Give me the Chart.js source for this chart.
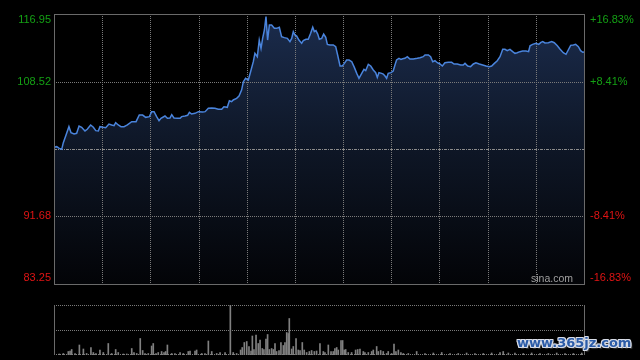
<!DOCTYPE html>
<html><head><meta charset="utf-8">
<script src="https://cdn.jsdelivr.net/npm/chart.js@4/dist/chart.umd.min.js"></script>
<style>
html,body{margin:0;padding:0;background:#000;width:640px;height:360px;overflow:hidden;}
#c1{position:absolute;left:0;top:0;}
#c2{position:absolute;left:0;top:290px;}
#wm{position:absolute;left:517px;top:335px;font:bold 13px "DejaVu Sans";color:#2c5ca8;
text-shadow:1px 0 0 #d8dde8,-1px 0 0 #d8dde8,0 1px 0 #d8dde8,0 -1px 0 #d8dde8,1px 1px 0 #d8dde8,-1px -1px 0 #d8dde8,1px -1px 0 #d8dde8,-1px 1px 0 #d8dde8,2px 2px 1px #333;white-space:nowrap;}
</style></head><body>
<canvas id="c1" width="640" height="290"></canvas>
<canvas id="c2" width="640" height="70"></canvas>
<div id="wm">www.365jz.com</div>
<script>
// ---- data (minutes since open, HK session 330 min) ----
const minutes = [0,1.7,3.3,4.8,5.8,7.5,9.3,10.6,12.5,14.1,15.6,17.2,19.3,20.7,22.8,24.5,26.0,27.6,28.6,30.7,32.2,34.2,35.9,37.4,38.4,40.0,41.7,43.6,45.7,48.4,51.1,53.1,55.2,57.1,59.4,60.8,62.3,63.9,65.4,66.6,69.1,70.6,72.2,73.3,74.7,76.8,78.5,79.5,81.6,83.2,84.3,85.7,87.8,89.9,92.6,94.1,96.1,98.2,100.2,102.3,104.4,105.8,107.9,109.2,110.6,111.6,113.7,115.2,116.8,117.9,119.3,121.0,122.7,124.1,125.1,126.6,127.8,128.9,129.9,131.0,132.0,133.0,134.1,135.5,137.2,138.6,140.3,141.7,143.4,145.3,146.9,148.0,149.0,150.0,151.1,152.5,154.2,155.2,156.9,158.3,159.8,161.1,162.1,163.1,164.2,165.2,166.7,167.9,169.2,170.2,171.8,173.9,175.4,176.6,178.1,179.5,180.8,182.2,183.7,185.4,187.0,188.5,189.9,191.6,193.0,194.1,195.7,197.2,198.8,200.3,201.3,202.3,204.0,205.0,206.1,207.1,208.1,209.8,211.2,212.3,213.3,214.8,216.0,217.1,218.5,220.0,221.6,223.7,226.2,227.9,229.9,231.0,233.1,234.5,235.8,237.2,238.7,240.3,241.8,243.4,245.5,247.6,249.1,251.1,253.2,254.8,255.9,257.6,259.4,261.1,262.7,264.8,266.9,269.0,271.0,272.5,274.2,276.0,277.7,279.4,280.8,282.2,283.9,285.6,287.0,288.4,290.1,291.8,293.9,295.5,296.4,298.0,300.1,301.8,303.2,304.3,305.7,307.8,309.9,311.5,313.4,315.0,317.1,318.8,320.2,321.7,323.4,324.8,326.5,327.9,329.2,330];
const prices = [100.31,100.39,100.18,100.06,100.89,101.85,102.89,102.14,101.97,102.06,102.97,102.81,102.35,102.56,103.10,102.81,102.39,102.35,102.89,102.81,102.76,103.22,103.10,103.01,103.39,103.10,102.89,102.89,103.10,103.51,103.51,104.34,104.34,104.05,104.14,104.76,104.76,104.14,103.64,103.93,104.22,103.93,103.97,104.39,103.97,103.93,103.93,104.14,104.22,104.30,104.68,104.47,104.55,104.76,104.72,104.76,105.18,105.22,105.18,105.05,105.05,105.38,105.30,106.13,106.01,106.22,106.42,106.71,107.46,108.50,108.92,108.71,109.96,111.00,112.04,111.62,113.70,112.66,113.91,114.95,116.62,113.70,115.58,115.58,115.16,115.16,115.29,114.12,114.00,113.91,113.50,113.91,114.75,114.33,114.20,113.70,113.29,113.62,113.79,113.79,114.54,115.29,114.75,114.87,114.45,113.79,113.91,114.45,114.04,113.16,113.08,113.08,112.87,111.83,110.46,110.46,110.79,111.21,111.21,111.00,110.29,109.54,108.92,109.54,110.04,109.88,110.67,110.46,109.96,109.63,109.04,109.63,109.54,109.46,109.21,108.92,109.54,109.63,109.83,110.58,111.21,111.42,111.29,111.37,111.42,111.62,111.33,111.33,111.42,111.50,111.62,111.83,111.83,111.62,111.00,111.12,110.87,110.71,110.46,110.87,110.92,110.92,110.71,110.71,110.59,110.59,110.79,110.46,110.38,110.71,110.87,110.71,110.59,110.46,110.38,110.46,110.79,111.12,111.62,112.54,112.54,112.37,112.54,112.25,112.04,112.12,112.25,112.33,112.33,112.25,112.99,113.16,113.29,113.16,113.41,113.50,113.33,113.37,113.50,113.37,112.99,112.58,112.12,111.92,112.46,113.04,113.08,113.16,112.87,112.37,112.17,112.21];
const volMinutes = [3.3,5.8,8.9,10.0,11.0,13.1,15.8,18.3,20.3,23.0,24.5,26.1,28.6,30.7,33.8,35.9,38.4,40.0,43.2,45.3,48.4,49.8,51.5,53.7,55.2,56.7,58.7,60.8,61.8,63.5,64.9,67.0,68.5,69.5,70.6,73.3,75.3,78.5,80.5,83.6,84.7,87.8,88.8,92.0,94.0,96.1,98.2,101.3,103.4,106.5,109.8,111.6,113.7,116.2,117.2,118.5,120.0,121.4,122.7,123.5,124.5,125.8,127.2,128.3,129.7,130.7,132.0,133.0,134.1,135.5,136.6,137.6,138.6,140.1,141.3,142.8,143.8,144.9,145.9,146.5,148.0,149.0,150.7,152.1,153.2,154.6,155.8,157.3,159.0,160.4,162.1,163.5,165.6,167.7,168.7,170.8,172.5,173.9,174.9,176.0,177.0,178.7,179.7,180.7,181.6,183.2,185.3,187.8,189.1,190.5,192.6,193.6,195.7,197.8,198.8,200.9,201.9,203.4,205.0,207.1,208.1,210.2,211.7,212.9,214.4,216.0,217.5,220.6,225.8,231.0,236.2,241.4,246.6,251.7,256.9,262.1,267.3,272.5,277.7,279.7,282.9,287.0,292.2,297.4,302.6,307.8,313.0,318.2,323.4,328.6];
const volumes = [2,3,7,8,11,3,20,12,3,15,5,3,10,5,23,3,11,5,2,2,13,5,3,33,9,3,3,18,23,3,5,7,5,7,20,3,3,5,3,7,8,8,10,3,3,28,7,3,5,5,100,5,3,10,15,25,27,17,8,38,11,40,23,30,13,11,32,41,11,13,11,23,7,9,25,19,25,45,43,73,12,17,33,10,9,25,10,5,7,9,7,8,23,7,5,20,7,7,13,15,10,29,29,10,11,5,5,10,11,12,7,5,5,7,10,17,7,9,7,3,7,3,22,7,10,5,3,3,7,3,4,5,3,3,4,3,3,4,5,7,4,4,3,4,3,3,4,3,3,4];
const priceTicks = [116.95, 108.52, 91.68, 83.25];
const pctTicks = ['+16.83%', '+8.41%', '-8.41%', '-16.83%'];
const prevClose = 100.10;
const sessionMinutes = 330;
const gridStep = 30;

const GREEN = '#14a014', RED = '#e01414', GRID = '#7a7a7a', BORDER = '#6a6a6a';

function hline(ctx, x1, x2, y){ctx.beginPath();ctx.moveTo(x1,y);ctx.lineTo(x2,y);ctx.stroke();}
function vline(ctx, x, y1, y2){ctx.beginPath();ctx.moveTo(x,y1);ctx.lineTo(x,y2);ctx.stroke();}

const priceGrid = {
  id:'priceGrid',
  beforeDatasetsDraw(chart){
    const {ctx, chartArea:a, scales:{x, y}} = chart;
    ctx.save();
    ctx.lineWidth = 1; ctx.strokeStyle = GRID; ctx.setLineDash([1,1]);
    for (let m = gridStep; m < sessionMinutes; m += gridStep) {
      const px = Math.round(x.getPixelForValue(m)) + 0.5;
      vline(ctx, px, a.top, a.bottom);
    }
    for (const v of [priceTicks[1], priceTicks[2]]) {
      hline(ctx, a.left, a.right, Math.round(y.getPixelForValue(v)) + 0.5);
    }
    ctx.strokeStyle = '#8c8c8c'; ctx.setLineDash([3,1,1,1]);
    hline(ctx, a.left, a.right, Math.round(y.getPixelForValue(prevClose)) + 0.5);
    ctx.restore();
  },
  afterDraw(chart){
    const {ctx, chartArea:a, scales:{y}} = chart;
    ctx.save();
    ctx.strokeStyle = BORDER; ctx.lineWidth = 1; ctx.setLineDash([]);
    ctx.strokeRect(Math.round(a.left)+0.5, Math.round(a.top)+0.5, Math.round(a.right-a.left), Math.round(a.bottom-a.top));
    ctx.font = '11px "Liberation Sans", Arial, sans-serif';
    ctx.textBaseline = 'middle';
    priceTicks.forEach((v, i) => {
      let py = y.getPixelForValue(v);
      py = Math.min(Math.max(py, a.top + 6), a.bottom - 6);
      ctx.fillStyle = v > prevClose ? GREEN : RED;
      ctx.textAlign = 'right'; ctx.fillText(v.toFixed(2), a.left - 3, py);
      ctx.textAlign = 'left'; ctx.fillText(pctTicks[i], a.right + 6, py);
    });
    ctx.fillStyle = '#a0a0a0'; ctx.font = '10.5px "Liberation Sans", Arial, sans-serif';
    ctx.textAlign = 'right'; ctx.fillText('sina.com', a.right - 11, a.bottom - 5);
    ctx.restore();
  }
};

new Chart(document.getElementById('c1'), {
  type: 'line',
  data: { datasets: [{
    data: minutes.map((m, i) => ({x: m, y: prices[i]})),
    borderColor: '#4a84dc', borderWidth: 1.5, pointRadius: 0, tension: 0,
    fill: 'start',
    backgroundColor: (c) => {
      const a = c.chart.chartArea; if (!a) return 'rgba(0,0,0,0)';
      const g = c.chart.ctx.createLinearGradient(0, a.top, 0, a.bottom);
      g.addColorStop(0, '#1b2c4d'); g.addColorStop(0.45, '#0f1829'); g.addColorStop(1, '#030407');
      return g;
    }
  }]},
  options: {
    responsive: false, animation: false, devicePixelRatio: 1,
    layout: { padding: {left: 54, right: 56, top: 14, bottom: 6} },
    plugins: { legend: {display: false}, tooltip: {enabled: false}, filler: {drawTime: 'beforeDraw'} },
    scales: {
      x: { type: 'linear', min: 0, max: sessionMinutes, display: false },
      y: { min: priceTicks[3], max: priceTicks[0], display: false }
    }
  },
  plugins: [priceGrid]
});

const volGrid = {
  id:'volGrid',
  beforeDatasetsDraw(chart){
    const {ctx, chartArea:a} = chart;
    ctx.save(); ctx.lineWidth = 1;
    ctx.strokeStyle = GRID; ctx.setLineDash([1,1]);
    const top = Math.round(a.top)+0.5, bot = Math.round(a.bottom)-0.5, mid = Math.round((a.top+a.bottom)/2)+0.5;
    hline(ctx, a.left, a.right, top); hline(ctx, a.left, a.right, mid); hline(ctx, a.left, a.right, bot);
    ctx.strokeStyle = BORDER; ctx.setLineDash([]);
    vline(ctx, Math.round(a.left)+0.5, a.top, a.bottom);
    vline(ctx, Math.round(a.right)+0.5, a.top, a.bottom);
    ctx.restore();
  }
};

new Chart(document.getElementById('c2'), {
  type: 'bar',
  data: { datasets: [{
    data: volMinutes.map((m, i) => ({x: m, y: volumes[i]})),
    backgroundColor: '#808080', barThickness: 1, borderWidth: 0
  }]},
  options: {
    responsive: false, animation: false, devicePixelRatio: 1,
    layout: { padding: {left: 54, right: 56, top: 15, bottom: 5} },
    plugins: { legend: {display: false}, tooltip: {enabled: false} },
    scales: {
      x: { type: 'linear', min: 0, max: sessionMinutes, offset: false, display: false },
      y: { min: 0, max: 100, display: false }
    }
  },
  plugins: [volGrid]
});
</script>
</body></html>
